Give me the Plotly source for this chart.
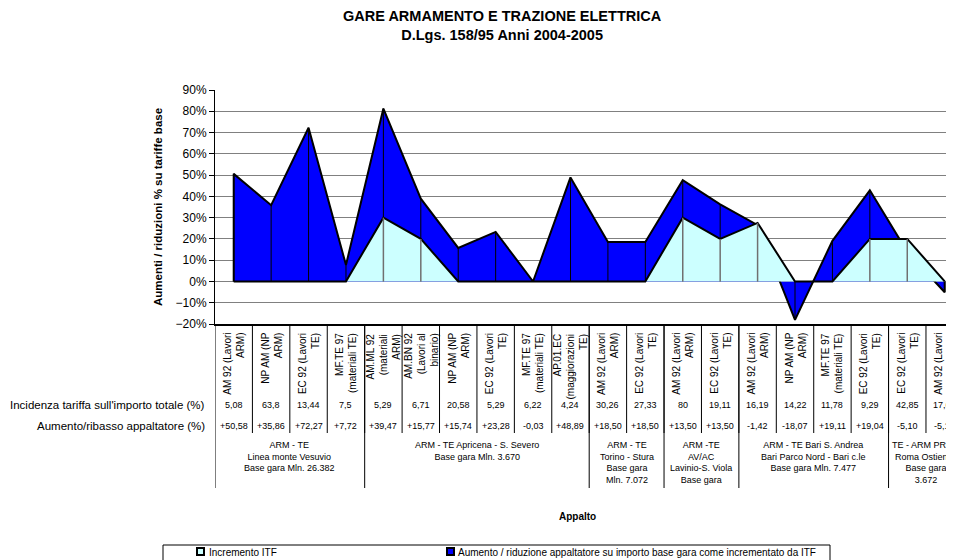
import plotly.graph_objects as go

# Voci d'appalto (colonne del grafico)
categorie = [
    "AM 92 (Lavori<br>ARM)", "NP AM (NP<br>ARM)", "EC 92 (Lavori<br>TE)", "MF.TE 97<br>(materiali TE)",
    "AM.ML 92<br>(materiali<br>ARM)", "AM.BN 92<br>(Lavori al<br>binario)", "NP AM (NP<br>ARM)",
    "EC 92 (Lavori<br>TE)", "MF.TE 97<br>(materiali TE)", "AP.01.EC<br>(maggiorazioni<br>TE)",
    "AM 92 (Lavori<br>ARM)", "EC 92 (Lavori<br>TE)", "AM 92 (Lavori<br>ARM)", "EC 92 (Lavori<br>TE)",
    "AM 92 (Lavori<br>ARM)", "NP AM (NP<br>ARM)", "MF.TE 97<br>(materiali TE)", "EC 92 (Lavori<br>TE)",
    "EC 92 (Lavori<br>TE)", "AM 92 (Lavori<br>ARM)",
]
incidenza = ["5,08", "63,8", "13,44", "7,5", "5,29", "6,71", "20,58", "5,29", "6,22", "4,24",
             "30,26", "27,33", "80", "19,11", "16,19", "14,22", "11,78", "9,29", "42,85", "17,61"]
aumento = ["+50,58", "+35,86", "+72,27", "+7,72", "+39,47", "+15,77", "+15,74", "+23,28", "-0,03", "+48,89",
           "+18,50", "+18,50", "+13,50", "+13,50", "-1,42", "-18,07", "+19,11", "+19,04", "-5,10", "-5,10"]

# Incremento ITF (%) e livello complessivo raggiunto con l'aumento appaltatore (%)
itf = [0, 0, 0, 0, 30, 20, 0, 0, 0, 0, 0, 0, 30, 20, 27.5, 0, 0, 20, 20, 0]
totale = [50.58, 35.86, 72.27, 7.72, 81.3, 38.9, 15.74, 23.28, -0.03, 48.89,
          18.5, 18.5, 47.6, 36.2, 26.5, -18.07, 19.11, 42.85, 13.9, -5.1]

gruppi = [
    "ARM - TE<br>Linea monte Vesuvio<br>Base gara Mln. 26.382",
    "ARM - TE Apricena - S. Severo<br>Base gara Mln. 3.670",
    "ARM - TE<br>Torino - Stura<br>Base gara<br>Mln. 7.072",
    "ARM -TE<br>AV/AC<br>Lavinio-S. Viola<br>Base gara",
    "ARM - TE Bari S. Andrea<br>Bari Parco Nord - Bari c.le<br>Base gara Mln. 7.477",
    "TE - ARM PROG<br>Roma Ostiense<br>Base gara<br>3.672",
]
gruppi_da = [0, 4, 10, 12, 14, 18]
gruppi_a = [3, 9, 11, 13, 17, 19]

FONT = "Arial, Liberation Sans, sans-serif"
OFF = 8  # margine di pagina del body html
PL, PR, PT, PB = 215, 954, 90, 324  # area del grafico in pixel di pagina
W, H = 954 - OFF, 560 - OFF


def fx(px):
    return (px - PL) / (PR - PL)


def fy(py):
    return (PB - py) / (PB - PT)


def txt(text, x, y, size, xref="paper", **kw):
    d = dict(x=x, y=y, xref=xref, yref="paper", text=text, showarrow=False,
             xanchor="center", yanchor="middle", font=dict(family=FONT, size=size, color="black"))
    d.update(kw)
    return d


idx = list(range(len(categorie)))

fig = go.Figure()

# area blu (aumento / riduzione appaltatore)
fig.add_trace(go.Scatter(
    x=[idx[0]] + idx + [idx[-1]], y=[0] + totale + [0], mode="lines", fill="toself",
    fillcolor="#0000FF", line=dict(color="black", width=2), hoverinfo="skip", showlegend=False,
))
dx, dy = [], []
for i in idx:
    dx += [i, i, None]
    dy += [0, totale[i], None]
fig.add_trace(go.Scatter(x=dx, y=dy, mode="lines", line=dict(color="black", width=1),
                         hoverinfo="skip", showlegend=False))

# area azzurra (incremento ITF)
fig.add_trace(go.Scatter(
    x=[idx[0]] + idx + [idx[-1]], y=[0] + itf + [0], mode="lines", fill="toself",
    fillcolor="#CCFFFF", line=dict(color="black", width=2), hoverinfo="skip", showlegend=False,
))
cx, cy = [], []
for i in idx:
    if itf[i] > 0:
        cx += [i, i, None]
        cy += [0, itf[i], None]
fig.add_trace(go.Scatter(x=cx, y=cy, mode="lines", line=dict(color="#707070", width=1.5),
                         hoverinfo="skip", showlegend=False))

ann = []
shapes = []

# tabella sotto il grafico
for i in idx:
    ann.append(txt(categorie[i], i, fy(331), 10, xref="x", textangle=-90, yanchor="top", align="right"))
    ann.append(txt(incidenza[i], i, fy(405), 9, xref="x"))
    ann.append(txt(aumento[i], i, fy(426), 9, xref="x"))
    if i > 0:
        shapes.append(dict(type="line", xref="x", yref="paper", x0=i - 0.5, x1=i - 0.5,
                           y0=fy(324), y1=fy(433), line=dict(color="black", width=1)))

for g, a, b in zip(gruppi, gruppi_da, gruppi_a):
    ann.append(txt(g, (a + b) / 2, fy(438), 9, xref="x", yanchor="top", align="center"))
    shapes.append(dict(type="line", xref="x", yref="paper", x0=a - 0.5, x1=a - 0.5,
                       y0=fy(324), y1=fy(488), line=dict(color="black", width=1)))

ann.append(txt("Incidenza tariffa sull'importo totale (%)", fx(207), fy(405), 11.5, xanchor="right"))
ann.append(txt("Aumento/ribasso appaltatore (%)", fx(207), fy(426), 11.5, xanchor="right"))

# titoli
ann.append(txt("<b>GARE ARMAMENTO E TRAZIONE ELETTRICA<br>D.Lgs. 158/95 Anni 2004-2005</b>",
               fx(502), fy(25), 14.5))
ann.append(txt("<b>Appalto</b>", fx(577), fy(516), 10))
ann.append(txt("<b>Aumenti / riduzioni % su tariffe base</b>", fx(158), fy(207), 11.5, textangle=-90))

# legenda
shapes.append(dict(type="rect", xref="paper", yref="paper", x0=fx(163), x1=fx(830), y0=fy(545), y1=fy(575),
                   line=dict(color="black", width=1), fillcolor="white"))
shapes.append(dict(type="rect", xref="paper", yref="paper", x0=fx(197), x1=fx(204), y0=fy(548), y1=fy(555),
                   line=dict(color="black", width=2), fillcolor="#CCFFFF"))
shapes.append(dict(type="rect", xref="paper", yref="paper", x0=fx(447), x1=fx(454), y0=fy(548), y1=fy(555),
                   line=dict(color="black", width=2), fillcolor="#0000FF"))
ann.append(txt("Incremento ITF", fx(207), fy(552), 10, xanchor="left"))
ann.append(txt("Aumento / riduzione appaltatore su importo base gara come incrementato da ITF",
               fx(456), fy(552), 10, xanchor="left"))

fig.update_layout(
    width=W, height=H, autosize=False,
    margin=dict(l=PL - OFF, r=0, t=PT - OFF, b=H - (PB - OFF), pad=0),
    paper_bgcolor="white", plot_bgcolor="white",
    annotations=ann, shapes=shapes,
    xaxis=dict(range=[-0.5, -0.5 + (PR - PL) / 37.42], showticklabels=False, ticks="", showgrid=False,
               zeroline=False, showline=True, linecolor="black", linewidth=2),
    yaxis=dict(range=[-20, 90], dtick=10, ticksuffix="%", showgrid=True, gridcolor="#808080", gridwidth=1,
               zeroline=False, showline=True, linecolor="black", linewidth=1, ticks="outside", ticklen=5,
               tickcolor="black", tickfont=dict(family=FONT, size=12, color="black")),
)

fig.write_html("out.html")
